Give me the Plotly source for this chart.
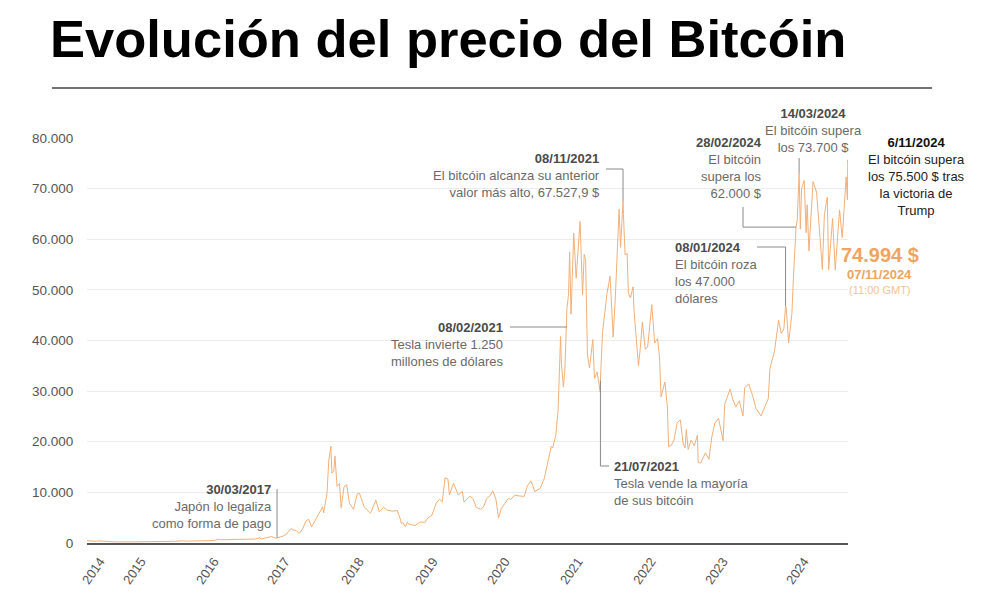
import pandas as pd
import plotly.graph_objects as go

# ---------------- data ----------------
dates = [
    "2014-09-17","2014-09-24","2014-10-05","2014-10-12","2014-10-26","2014-11-12","2014-11-26","2014-12-10","2014-12-31",
    "2015-01-14","2015-01-28","2015-02-11","2015-02-25","2015-03-11","2015-03-25","2015-04-14","2015-05-01","2015-05-20",
    "2015-06-10","2015-06-30","2015-07-12","2015-07-31","2015-08-18","2015-09-01","2015-09-20","2015-10-10","2015-10-31",
    "2015-11-04","2015-11-11","2015-11-30","2015-12-15","2015-12-31",
    "2016-01-15","2016-02-01","2016-02-20","2016-03-10","2016-04-10","2016-05-10","2016-05-31","2016-06-17","2016-06-28",
    "2016-07-15","2016-08-02","2016-08-31","2016-09-30","2016-10-26","2016-11-15","2016-12-10","2016-12-31",
    "2017-01-04","2017-01-11","2017-02-01","2017-02-23","2017-03-03","2017-03-24","2017-03-30","2017-04-15","2017-05-01",
    "2017-05-15","2017-05-25","2017-06-06","2017-06-12","2017-06-25","2017-07-01","2017-07-16","2017-08-01","2017-08-17",
    "2017-08-31","2017-09-14","2017-09-30","2017-10-20","2017-11-07","2017-11-12","2017-11-28","2017-12-07","2017-12-17",
    "2017-12-22","2017-12-31",
    "2018-01-06","2018-01-16","2018-01-28","2018-02-05","2018-02-19","2018-03-04","2018-03-17","2018-03-31","2018-04-06",
    "2018-04-24","2018-05-05","2018-05-28","2018-06-12","2018-06-28","2018-07-24","2018-08-10","2018-08-31","2018-09-15",
    "2018-10-12","2018-11-05","2018-11-19","2018-11-25","2018-12-03","2018-12-15","2018-12-24","2018-12-31",
    "2019-01-10","2019-01-31","2019-02-24","2019-03-20","2019-04-02","2019-04-23","2019-05-14","2019-05-30","2019-06-12",
    "2019-06-26","2019-07-10","2019-07-17","2019-08-06","2019-08-29","2019-09-18","2019-09-26","2019-10-25","2019-11-08",
    "2019-11-25","2019-12-17","2019-12-31",
    "2020-01-14","2020-01-31","2020-02-13","2020-02-28","2020-03-12","2020-03-25","2020-04-29","2020-05-10","2020-05-31",
    "2020-06-20","2020-07-15","2020-07-31","2020-08-17","2020-09-05","2020-09-30","2020-10-21","2020-11-05","2020-11-24",
    "2020-12-01","2020-12-16","2020-12-27",
    "2021-01-08","2021-01-12","2021-01-22","2021-01-29","2021-02-08","2021-02-16","2021-02-21","2021-02-28","2021-03-13",
    "2021-03-25","2021-04-13","2021-04-25","2021-05-03","2021-05-10","2021-05-19","2021-05-29","2021-06-14","2021-06-22",
    "2021-07-05","2021-07-20","2021-07-21","2021-07-31","2021-08-14","2021-08-22","2021-09-06","2021-09-21","2021-10-01",
    "2021-10-15","2021-10-20","2021-10-27","2021-11-08","2021-11-10","2021-11-18","2021-11-28","2021-12-04","2021-12-14",
    "2021-12-27","2021-12-31",
    "2022-01-10","2022-01-22","2022-01-31","2022-02-10","2022-02-24","2022-03-08","2022-03-28","2022-04-11","2022-04-25",
    "2022-05-05","2022-05-12","2022-05-31","2022-06-12","2022-06-18","2022-07-01","2022-07-13","2022-07-30","2022-08-14",
    "2022-08-28","2022-09-06","2022-09-12","2022-09-21","2022-10-05","2022-10-21","2022-11-05","2022-11-09","2022-11-21",
    "2022-12-05","2022-12-14","2022-12-31",
    "2023-01-14","2023-01-29","2023-02-16","2023-03-10","2023-03-18","2023-04-13","2023-04-26","2023-05-11","2023-05-28",
    "2023-06-15","2023-06-23","2023-07-13","2023-07-31","2023-08-17","2023-09-11","2023-09-30","2023-10-16","2023-10-24",
    "2023-11-09","2023-11-15","2023-12-05","2023-12-18","2023-12-31",
    "2024-01-08","2024-01-11","2024-01-23","2024-02-08","2024-02-15","2024-02-28","2024-03-05","2024-03-14","2024-03-20",
    "2024-03-26","2024-04-08","2024-04-17","2024-04-22","2024-05-01","2024-05-21","2024-06-07","2024-06-24","2024-07-05",
    "2024-07-15","2024-07-29","2024-08-05","2024-08-24","2024-09-06","2024-09-27","2024-10-10","2024-10-29","2024-11-04",
    "2024-11-06","2024-11-07",
]
prices = [
    457, 423, 320, 400, 354, 424, 365, 347, 320,
    178, 233, 220, 237, 296, 246, 219, 232, 234,
    229, 263, 310, 284, 211, 228, 231, 246, 314,
    403, 311, 377, 465, 430,
    375, 372, 439, 413, 420, 460, 531, 750, 646,
    665, 547, 573, 609, 676, 711, 774, 963,
    1154, 777, 1007, 1174, 1285, 937, 1040, 1180, 1421,
    1726, 2304, 2864, 2660, 2590, 2434, 1930, 2718, 4300,
    4700, 3155, 4338, 5993, 7144, 5950, 9817, 16400, 19140,
    13830, 14156,
    17170, 11180, 11786, 6955, 11123, 11500, 7890, 6973, 6636,
    9666, 9858, 7118, 6553, 5903, 8424, 6185, 7037, 6520,
    6290, 6415, 4871, 3880, 3960, 3236, 4100, 3742,
    3630, 3457, 4140, 4050, 4880, 5520, 7900, 8660, 8150,
    12900, 12600, 9500, 11800, 9500, 10200, 8100, 9240, 8800,
    7000, 6640, 7200,
    8800, 9350, 10300, 8700, 4970, 6760, 8800, 8600, 9450,
    9300, 9200, 11350, 12250, 10170, 10780, 12800, 15580, 19100,
    18800, 21300, 26300,
    40800, 35500, 30800, 34300, 46400, 49200, 57500, 45200, 61200,
    52300, 63500, 49000, 57000, 55800, 37000, 34600, 40200, 32500,
    33800, 29800, 32100, 41500, 47000, 49300, 52700, 40700, 48100,
    61700, 65900, 58400, 67500, 64900, 56900, 57200, 49400, 48400,
    50600, 46300,
    41800, 35000, 38500, 43600, 38300, 38700, 47100, 39500, 40400,
    36500, 28900, 31800, 26700, 19000, 19300, 20200, 23800, 24300,
    19550, 18800, 22400, 18500, 20300, 19200, 21300, 15900, 15800,
    17100, 17800, 16550,
    20900, 23700, 24600, 20200, 27400, 30400, 28400, 26900, 28100,
    25100, 30700, 31400, 29200, 26600, 25100, 27000, 28500, 34500,
    36700, 37800, 44000, 41400, 42300,
    46900, 46600, 39500, 45300, 52000, 62400, 63800, 73100, 62000,
    70000, 71600, 61300, 66800, 57700, 71400, 69300, 60300, 54000,
    64800, 68300, 54000, 64100, 53900, 65800, 60300, 72300, 67800,
    75600, 74994,
]

year_labels = ["2014", "2015", "2016", "2017", "2018", "2019", "2020", "2021", "2022", "2023", "2024"]
y_ticks = [0, 10000, 20000, 30000, 40000, 50000, 60000, 70000, 80000]

event_dates = ["2017-03-30", "2021-02-08", "2021-11-08", "2021-07-21",
               "2024-01-08", "2024-02-28", "2024-03-14", "2024-11-06"]
event_labels = ["30/03/2017", "08/02/2021", "08/11/2021", "21/07/2021",
                "08/01/2024", "28/02/2024", "14/03/2024", "6/11/2024"]
event_texts = [
    ["Japón lo legaliza", "como forma de pago"],
    ["Tesla invierte 1.250", "millones de dólares"],
    ["El bitcóin alcanza su anterior", "valor más alto, 67.527,9 $"],
    ["Tesla vende la mayoría", "de sus bitcóin"],
    ["El bitcóin roza", "los 47.000", "dólares"],
    ["El bitcóin", "supera los", "62.000 $"],
    ["El bitcóin supera", "los 73.700 $"],
    ["El bitcóin supera", "los 75.500 $ tras", "la victoria de", "Trump"],
]
last_price_label = "74.994 $"
last_date_label = "07/11/2024"
last_time_label = "(11:00 GMT)"
title_text = "Evolución del precio del Bitcóin"

# ---------------- geometry helpers (reference pixel coords) ----------------
OFF = 8  # page body margin of the html page
PL, PR, PT, PB = 87, 848, 138, 543
d0 = pd.Timestamp(dates[0])
d1 = pd.Timestamp(dates[-1])
YMAX = 80000


def px2date(px):
    return (d0 + (px - PL) / (PR - PL) * (d1 - d0)).strftime("%Y-%m-%d %H:%M")


def py2val(py):
    return (PB - py) / (PB - PT) * YMAX


def pxx(px):
    return (px - PL) / (PR - PL)


def pxy(py):
    return (PB - py) / (PB - PT)


price_of = dict(zip(dates, prices))
ev_val = [price_of[d] for d in event_dates]

LINE = "#f3b078"
GRAY = "#8a8a8a"
FONT = "Liberation Sans, Arial, sans-serif"
TXT = 13

fig = go.Figure()
fig.add_trace(go.Scatter(x=dates, y=prices, mode="lines",
                         line=dict(color=LINE, width=1), hoverinfo="skip", showlegend=False))

tick_px = [100, 141, 214, 285, 359, 433, 505, 578, 651, 723, 804]
tick_dates = [px2date(p) for p in tick_px]

fig.update_layout(
    width=1000, height=600,
    margin=dict(l=PL - OFF, r=1000 - PR + OFF, t=PT - OFF, b=600 - PB + OFF, autoexpand=False),
    paper_bgcolor="white", plot_bgcolor="white",
    separators=",.",
    font=dict(family=FONT, color="#555"),
    xaxis=dict(type="date", range=[dates[0], dates[-1]], showgrid=False, zeroline=False,
               showline=True, linecolor="#555", linewidth=1.5,
               tickmode="array", tickvals=tick_dates, ticktext=year_labels,
               tickangle=-55, tickfont=dict(size=13, color="#555"),
               ticks="outside", ticklen=4, tickcolor="rgba(0,0,0,0)"),
    yaxis=dict(range=[0, YMAX], tickmode="array", tickvals=y_ticks, tickformat=",d",
               showgrid=True, gridcolor="#ececec", gridwidth=1, zeroline=False,
               showline=False, tickfont=dict(size=13.5, color="#555"),
               ticks="outside", ticklen=10, tickcolor="rgba(0,0,0,0)"),
    showlegend=False,
)

shapes = []
annotations = []


def seg(x0, y0, x1, y1, color=GRAY):
    shapes.append(dict(type="line", xref="x", yref="y", x0=x0, y0=y0, x1=x1, y1=y1,
                       line=dict(color=color, width=1)))


def block(i, px, py_top, anchor, date_color="#4a4a4a", text_color="#6a6a6a"):
    body = "<br>".join(f"<span style='color:{text_color}'>{t}</span>" for t in event_texts[i])
    txt = f"<b><span style='color:{date_color}'>{event_labels[i]}</span></b><br>" + body
    annotations.append(dict(xref="paper", yref="paper", x=pxx(px), y=pxy(py_top),
                            xanchor=anchor, yanchor="top", align=anchor,
                            text=txt, showarrow=False,
                            font=dict(family=FONT, size=TXT)))


# 0: 30/03/2017
xe, ve = event_dates[0], ev_val[0]
block(0, 274, 480, "right")
seg(px2date(277), py2val(489), xe, py2val(489))
seg(xe, py2val(489), xe, ve)

# 1: 08/02/2021
xe = event_dates[1]
block(1, 506, 318, "right")
seg(px2date(510), py2val(327), xe, py2val(327))

# 2: 08/11/2021
xe, ve = event_dates[2], ev_val[2]
block(2, 602, 149, "right")
seg(px2date(606), py2val(169), xe, py2val(169))
seg(xe, py2val(169), xe, ve)

# 3: 21/07/2021
xe, ve = event_dates[3], ev_val[3]
block(3, 612, 457, "left")
seg(xe, ve, xe, py2val(466))
seg(xe, py2val(466), px2date(609), py2val(466))

# 4: 08/01/2024
xe, ve = event_dates[4], ev_val[4]
block(4, 673, 238, "left")
seg(px2date(757), py2val(247), xe, py2val(247))
seg(xe, py2val(247), xe, ve)

# 5: 28/02/2024
xe, ve = event_dates[5], ev_val[5]
block(5, 764, 133, "right")
seg(px2date(743), py2val(207), px2date(743), ve)
seg(px2date(743), ve, xe, ve)

# 6: 14/03/2024
xe, ve = event_dates[6], ev_val[6]
block(6, 813, 104, "center")
seg(xe, py2val(158), xe, ve)

# 7: 6/11/2024
xe, ve = event_dates[7], ev_val[7]
block(7, 916, 133, "center", date_color="#111", text_color="#222")
seg(xe, ve, px2date(862), ve)
seg(px2date(857), ve, px2date(857), py2val(240), color="#f3c9a4")

# final price labels
annotations.append(dict(xref="paper", yref="paper", x=pxx(880), y=pxy(255), xanchor="center", yanchor="middle",
                        text=f"<b>{last_price_label}</b>", showarrow=False,
                        font=dict(family=FONT, size=20, color="#f0a45f")))
annotations.append(dict(xref="paper", yref="paper", x=pxx(880), y=pxy(274), xanchor="center", yanchor="middle",
                        text=f"<b>{last_date_label}</b>", showarrow=False,
                        font=dict(family=FONT, size=13, color="#f0a45f")))
annotations.append(dict(xref="paper", yref="paper", x=pxx(880), y=pxy(290), xanchor="center", yanchor="middle",
                        text=last_time_label, showarrow=False,
                        font=dict(family=FONT, size=11, color="#f5c396")))

# title and rule
annotations.append(dict(xref="paper", yref="paper", x=pxx(48), y=pxy(38), xanchor="left", yanchor="middle",
                        text=f"<b>{title_text}</b>", showarrow=False,
                        font=dict(family=FONT, size=52.5, color="#000")))
shapes.append(dict(type="line", xref="paper", yref="paper", x0=pxx(52), x1=pxx(932), y0=pxy(88), y1=pxy(88),
                   line=dict(color="#444", width=1.5)))

fig.update_layout(shapes=shapes, annotations=annotations)
fig.write_html("out.html")
